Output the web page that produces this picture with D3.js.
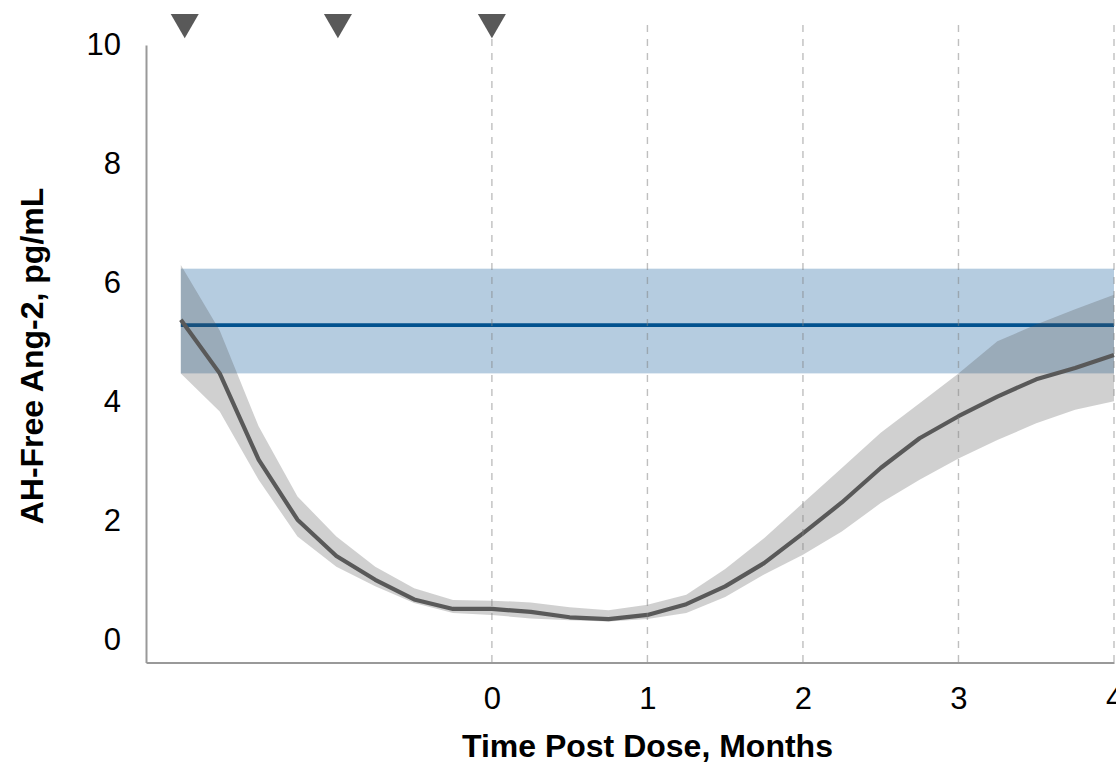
<!DOCTYPE html>
<html>
<head>
<meta charset="utf-8">
<script src="https://cdn.jsdelivr.net/npm/d3@7"></script>
<style>
  body { margin: 0; background: #fff; }
  svg { display: block; font-family: 'Liberation Sans', Arial, sans-serif; }
  .tick text { fill: #000; }
</style>
</head>
<body>
<svg id="chart" width="1116" height="765"></svg>
<script>
// months post dose (quarter-month steps)
const months = [-2, -1.75, -1.5, -1.25, -1, -0.75, -0.5, -0.25, 0, 0.25, 0.5, 0.75, 1,
  1.25, 1.5, 1.75, 2, 2.25, 2.5, 2.75, 3, 3.25, 3.5, 3.75, 4]
const median = [5.38, 4.48, 3.03, 2.02, 1.41, 1.01, 0.68, 0.52, 0.52, 0.47, 0.38, 0.35, 0.42,
  0.60, 0.90, 1.29, 1.79, 2.31, 2.89, 3.39, 3.76, 4.09, 4.38, 4.57, 4.79]
const upper = [6.30, 5.20, 3.59, 2.41, 1.74, 1.23, 0.87, 0.67, 0.66, 0.63, 0.55, 0.50, 0.59,
  0.76, 1.19, 1.71, 2.30, 2.89, 3.48, 3.98, 4.48, 5.02, 5.30, 5.56, 5.80]
const lower = [4.48, 3.84, 2.69, 1.74, 1.23, 0.90, 0.62, 0.45, 0.42, 0.36, 0.33, 0.31, 0.35,
  0.45, 0.72, 1.10, 1.43, 1.82, 2.30, 2.69, 3.05, 3.36, 3.64, 3.87, 4.01]

// reference range (blue band) and its centre line
const refRange = { from: -2, to: 4, low: 4.48, high: 6.24, mid: 5.29 }
const doseTimes = [-1.975, -0.99, 0]
const xTicks = [0, 1, 2, 3, 4]
const yTicks = [0, 2, 4, 6, 8, 10]

const svg = d3.select('#chart')

const x = d3.scaleLinear().domain([-2.224, 4]).range([146, 1114])
const y = d3.scaleLinear().domain([-0.38, 10]).range([662.5, 45])

const data = months.map((m, i) => ({ m, med: median[i], lo: lower[i], hi: upper[i] }))

// blue reference band
svg.append('rect')
  .attr('x', x(refRange.from))
  .attr('y', y(refRange.high))
  .attr('width', x(refRange.to) - x(refRange.from))
  .attr('height', y(refRange.low) - y(refRange.high))
  .attr('fill', '#b5cce0')

svg.append('line')
  .attr('x1', x(refRange.from))
  .attr('x2', x(refRange.to))
  .attr('y1', y(refRange.mid))
  .attr('y2', y(refRange.mid))
  .attr('stroke', '#02528f')
  .attr('stroke-width', 3.8)

// prediction interval
const area = d3.area()
  .x(d => x(d.m))
  .y0(d => y(d.lo))
  .y1(d => y(d.hi))

svg.append('path')
  .datum(data)
  .attr('d', area)
  .attr('fill', '#515151')
  .attr('fill-opacity', 0.27)

const line = d3.line()
  .x(d => x(d.m))
  .y(d => y(d.med))

svg.append('path')
  .datum(data)
  .attr('d', line)
  .attr('fill', 'none')
  .attr('stroke', '#595959')
  .attr('stroke-width', 4.2)
  .attr('stroke-linejoin', 'round')

// dashed month gridlines
svg.append('g')
  .selectAll('line')
  .data(xTicks)
  .enter()
  .append('line')
  .attr('x1', d => x(d))
  .attr('x2', d => x(d))
  .attr('y1', 25)
  .attr('y2', y.range()[0])
  .attr('stroke', '#808080')
  .attr('stroke-opacity', 0.5)
  .attr('stroke-width', 1.4)
  .attr('stroke-dasharray', '7,7')

// axes
const xAxis = d3.axisBottom(x).tickValues(xTicks).tickSize(0).tickPadding(24).tickFormat(d3.format('d'))
svg.append('g')
  .attr('transform', `translate(0, ${y.range()[0]})`)
  .call(xAxis)
  .call(g => g.select('.domain').attr('stroke', '#999').attr('stroke-width', 2))
  .call(g => g.selectAll('.tick text').attr('font-size', 31).attr('font-family', 'Liberation Sans, Arial, sans-serif'))

const yAxis = d3.axisLeft(y).tickValues(yTicks).tickSize(0).tickPadding(25)
svg.append('g')
  .attr('transform', `translate(${x.range()[0]}, 0)`)
  .call(yAxis)
  .call(g => g.select('.domain').attr('stroke', '#999').attr('stroke-width', 2))
  .call(g => g.selectAll('.tick text').attr('font-size', 31).attr('font-family', 'Liberation Sans, Arial, sans-serif'))

// dose markers
const tri = d3.symbol().type(d3.symbolTriangle).size(340)
svg.append('g')
  .selectAll('path')
  .data(doseTimes)
  .enter()
  .append('path')
  .attr('d', tri)
  .attr('transform', d => `translate(${x(d)}, 22) rotate(180)`)
  .attr('fill', '#595959')

// axis titles
svg.append('text')
  .attr('x', x(1))
  .attr('y', 757)
  .attr('text-anchor', 'middle')
  .attr('font-size', 32)
  .attr('font-weight', 'bold')
  .text('Time Post Dose, Months')

svg.append('text')
  .attr('transform', `translate(43, ${356}) rotate(-90)`)
  .attr('text-anchor', 'middle')
  .attr('font-size', 32)
  .attr('font-weight', 'bold')
  .text('AH-Free Ang-2, pg/mL')
</script>
</body>
</html>
